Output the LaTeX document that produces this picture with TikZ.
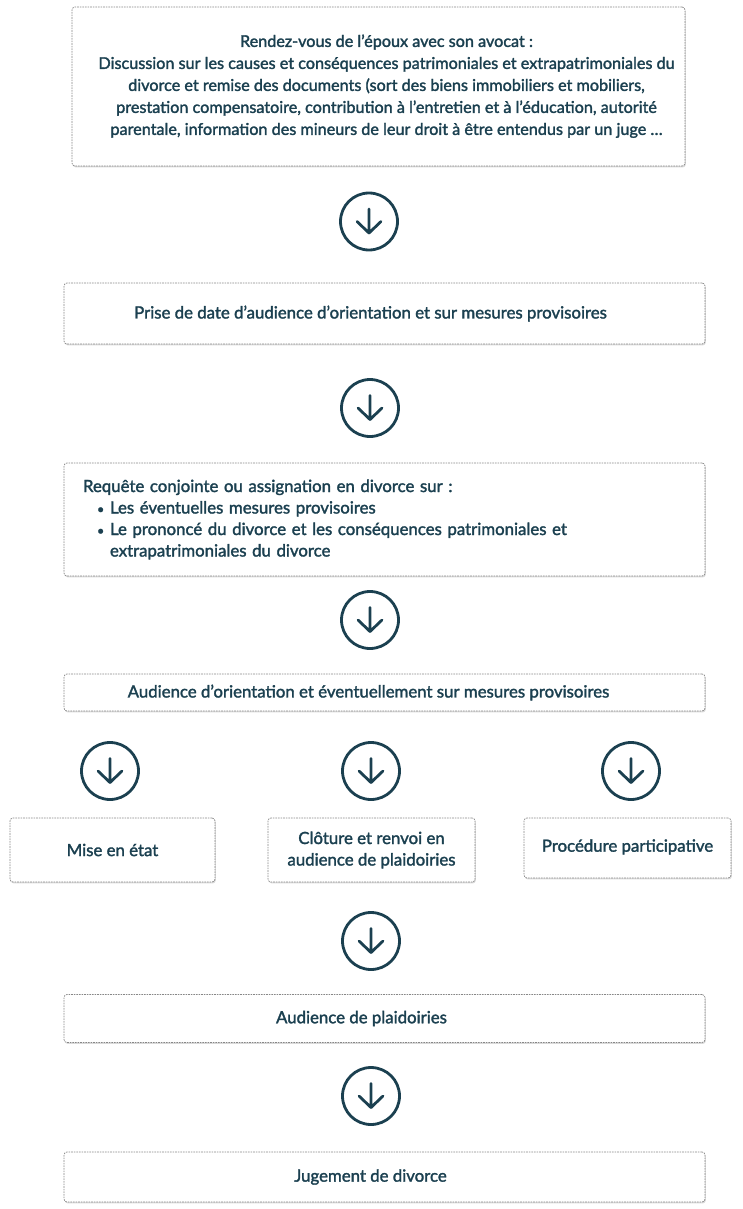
\documentclass[tikz,border=0pt]{standalone}
\usepackage{fontspec}
\setmainfont{Lato}
\newfontfamily\boxfamily{Lato}[FakeBold=1.8]
\usetikzlibrary{positioning,shadows}
\definecolor{DeepTeal}{RGB}{27,64,80}
\definecolor{BoxLine}{RGB}{135,135,135}
\newcommand{\boxfont}{\boxfamily\fontsize{16.8}{21.5}\selectfont}
\newcommand{\smallbullet}{\scalebox{0.75}{\textbullet}}
\tikzset{
  stepbox/.style={draw=BoxLine,dash pattern=on 1.6pt off 1pt,line width=0.7pt,
    rounded corners=3pt,fill=white,
    drop shadow={shadow xshift=0.8pt,shadow yshift=-1.4pt,opacity=0.3},
    text=DeepTeal,align=center,inner sep=0pt,font=\boxfont},
  widebox/.style={stepbox,minimum width=641pt},
  textshift/.style={execute at begin node={\hspace*{-#1}}},
  textshift/.default=28pt,
  downcirc/.style={circle,draw=DeepTeal,line width=2.8pt,minimum size=57pt,inner sep=0pt,
    path picture={
      \draw[DeepTeal,line width=2.8pt,line cap=round,line join=round]
        ([yshift=12.5pt]path picture bounding box.center)
        -- ([yshift=-11.5pt]path picture bounding box.center)
        ([xshift=-12pt]path picture bounding box.center)
        -- ([yshift=-11.5pt]path picture bounding box.center)
        -- ([xshift=12pt]path picture bounding box.center);}}
}

\begin{document}
\begin{tikzpicture}[x=1pt,y=-1pt]
  \useasboundingbox (0,0) rectangle (743,1209);
  % main column
  \node[stepbox,minimum width=613pt,minimum height=159pt,
        font=\boxfamily\fontsize{16.2}{22}\selectfont] (rdv) at (378.5,86.5)
    {\hspace*{16pt}\begin{tabular}{@{}c@{}}
     Rendez-vous de l’époux avec son avocat~:\\
     Discussion sur les causes et conséquences patrimoniales et extrapatrimoniales du\\
     divorce et remise des documents (sort des biens immobiliers et mobiliers,\\
     prestation compensatoire, contribution à l’entretien et à l’éducation, autorité\\
     parentale, information des mineurs de leur droit à être entendus par un juge …
     \end{tabular}};
  \node[downcirc] (c1) at (369,221.5) {};
  \node[widebox,textshift,minimum height=61pt] (date) at (384.5,313.5)
    {Prise de date d’audience d’orientation et sur mesures provisoires};
  \node[downcirc] (c2) at (370,408) {};
  \node[widebox,minimum height=113pt,text width=603pt,align=left] (requete) at (384.5,519.5)
    {Requête conjointe ou assignation en divorce sur~:\\
     \hspace*{14pt}\makebox[13pt][l]{\smallbullet}Les éventuelles mesures provisoires\\
     \hspace*{14pt}\makebox[13pt][l]{\smallbullet}Le prononcé du divorce et les conséquences patrimoniales et\\
     \hspace*{27pt}extrapatrimoniales du divorce};
  \node[downcirc] (c3) at (370,620) {};
  \node[widebox,textshift=32pt,minimum height=37pt] (orient) at (384.5,692.5)
    {Audience d’orientation et éventuellement sur mesures provisoires};
  % three branches
  \node[downcirc] (c4) at (110,771) {};
  \node[downcirc] (c5) at (371,771) {};
  \node[downcirc] (c6) at (631,771) {};
  \node[stepbox,minimum width=205pt,minimum height=64pt] (miseetat) at (112.5,850) {Mise en état};
  \node[stepbox,minimum width=207pt,minimum height=64pt] (cloture) at (371.5,850)
    {Clôture et renvoi en\\audience de plaidoiries};
  \node[stepbox,minimum width=207pt,minimum height=60pt] (procedure) at (627.5,848)
    {\raisebox{5pt}{Procédure participative}};
  % end of procedure
  \node[downcirc] (c7) at (371,941) {};
  \node[widebox,textshift=46pt,minimum height=48pt] (plaid) at (384.5,1018.5) {Audience de plaidoiries};
  \node[downcirc] (c8) at (371,1096) {};
  \node[widebox,textshift,minimum height=50pt] (jugement) at (384.5,1177) {Jugement de divorce};
\end{tikzpicture}
\end{document}
